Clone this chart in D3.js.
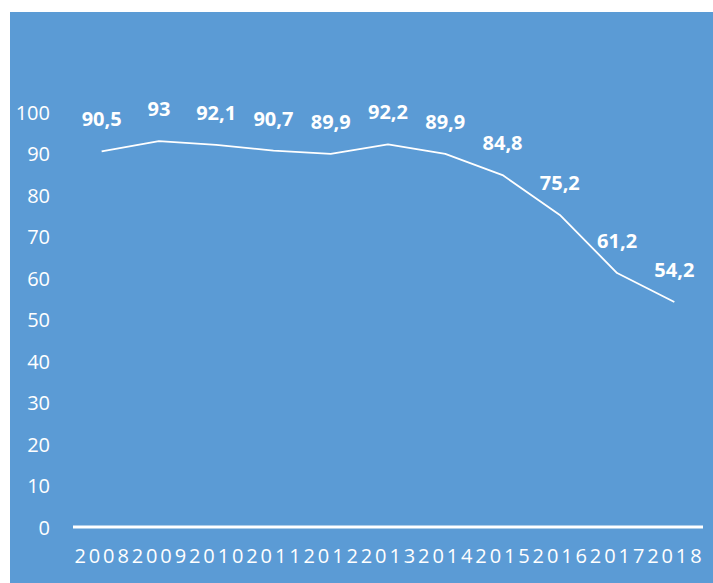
<!DOCTYPE html>
<html>
<head>
<meta charset="utf-8">
<script src="https://cdn.jsdelivr.net/npm/d3@7"></script>
<style>
  html, body { margin: 0; padding: 0; background: #ffffff; }
  svg { display: block; }
  text { font-family: "Open Sans", "Noto Sans", sans-serif; fill: #ffffff; }
</style>
</head>
<body>
<script>
// Yearly values shown on the line
const years = ["2008","2009","2010","2011","2012","2013","2014","2015","2016","2017","2018"];
const values = [90.5, 93, 92.1, 90.7, 89.9, 92.2, 89.9, 84.8, 75.2, 61.2, 54.2];
const yTicks = [0, 10, 20, 30, 40, 50, 60, 70, 80, 90, 100];

const W = 713, H = 583;
const svg = d3.select("body").append("svg").attr("width", W).attr("height", H);

// chart panel
svg.append("rect").attr("x", 10).attr("y", 12).attr("width", W - 10).attr("height", H - 12)
  .attr("fill", "#5B9BD5");

const x = d3.scaleBand().domain(years).range([73, 703]);
const y = d3.scaleLinear().domain([0, 100]).range([527, 112]);
const cx = d => x(d) + x.bandwidth() / 2;

// y-axis labels (no line, no ticks)
const yAxis = d3.axisLeft(y).tickValues(yTicks).tickSize(0).tickPadding(0);
const gy = svg.append("g").attr("transform", "translate(50,0)").call(yAxis);
gy.select(".domain").remove();
gy.selectAll("text").attr("font-size", 20).attr("fill", "#fff")
  .attr("font-family", "Open Sans").attr("dy", "0.35em");

// baseline
svg.append("line").attr("x1", 73).attr("x2", 703).attr("y1", y(0)).attr("y2", y(0))
  .attr("stroke", "#fff").attr("stroke-width", 3);

// x-axis labels
const xAxis = d3.axisBottom(x).tickSize(0).tickPadding(0);
const gx = svg.append("g").attr("transform", "translate(0,563)").call(xAxis);
gx.select(".domain").remove();
gx.selectAll("text").attr("font-size", 20).attr("fill", "#fff")
  .attr("font-family", "Open Sans").attr("dy", 0).attr("y", 0)
  .attr("letter-spacing", "2.9px").attr("dx", "1.45px");

// line
const line = d3.line().x((d, i) => cx(years[i])).y(d => y(d));
svg.append("path").datum(values).attr("d", line)
  .attr("fill", "none").attr("stroke", "#fff").attr("stroke-width", 1.8)
  .attr("stroke-linejoin", "round");

// value labels
svg.append("g").selectAll("text").data(values).join("text")
  .attr("x", (d, i) => cx(years[i]))
  .attr("y", d => y(d) - 25)
  .attr("text-anchor", "middle")
  .attr("font-size", 20).attr("font-weight", 700)
  .text(d => String(d).replace(".", ","));
</script>
</body>
</html>
